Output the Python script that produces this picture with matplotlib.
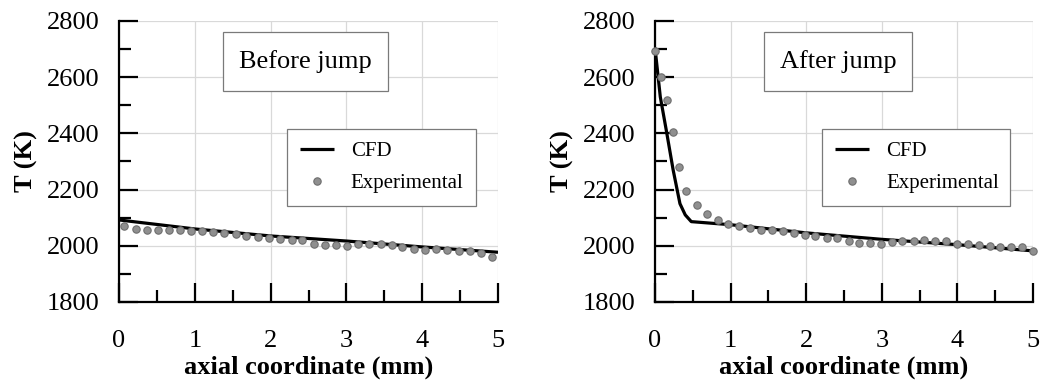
import matplotlib
matplotlib.use("Agg")
import matplotlib.pyplot as plt
from matplotlib.patches import Rectangle
from matplotlib.ticker import MultipleLocator

plt.rcParams['font.family'] = ['Liberation Serif', 'DejaVu Serif']

# ---------------- data ----------------
cfd_before_x = [0, 1, 2, 3, 4, 5]
cfd_before_T = [2092, 2060, 2035, 2017, 1996, 1977]

exp_before_x = [0.07, 0.22, 0.365, 0.51, 0.655, 0.80, 0.95, 1.10, 1.24, 1.39,
                1.54, 1.68, 1.83, 1.98, 2.13, 2.28, 2.42, 2.57, 2.72, 2.86,
                3.01, 3.15, 3.30, 3.45, 3.60, 3.74, 3.89, 4.04, 4.18, 4.33,
                4.48, 4.63, 4.77, 4.92]
exp_before_T = [2072, 2061, 2056, 2055, 2055, 2055, 2053, 2053, 2050, 2047,
                2041, 2036, 2032, 2029, 2023, 2019, 2022, 2008, 2002, 2002,
                1999, 2005, 2008, 2008, 2004, 1997, 1990, 1986, 1990, 1985,
                1980, 1981, 1973, 1961]

cfd_after_x = [0, 0.07, 0.15, 0.24, 0.33, 0.40, 0.48, 1, 2, 3, 4, 5]
cfd_after_T = [2705, 2530, 2410, 2270, 2150, 2110, 2086, 2075, 2046, 2023, 2004, 1982]

exp_after_x = [0.0, 0.08, 0.16, 0.24, 0.32, 0.405, 0.55, 0.69, 0.83, 0.97,
               1.11, 1.26, 1.40, 1.55, 1.69, 1.84, 1.98, 2.12, 2.27, 2.41,
               2.56, 2.70, 2.84, 2.99, 3.13, 3.27, 3.42, 3.56, 3.70, 3.85,
               3.99, 4.14, 4.28, 4.43, 4.57, 4.71, 4.86, 5.0]
exp_after_T = [2693, 2600, 2520, 2406, 2282, 2195, 2146, 2112, 2093, 2076,
               2069, 2065, 2057, 2057, 2051, 2044, 2040, 2035, 2029, 2027,
               2017, 2011, 2009, 2006, 2014, 2017, 2016, 2019, 2017, 2016,
               2008, 2005, 2003, 1999, 1995, 1997, 1997, 1981]

panel_titles = ["Before jump", "After jump"]
xlabel = "axial coordinate (mm)"
ylabel = "T (K)"
legend_labels = ["CFD", "Experimental"]

# ---------------- figure ----------------
W, H = 1042, 380
fig = plt.figure(figsize=(W / 100, H / 100), dpi=100)

def px_axes(l, r, t, b):
    return fig.add_axes([l / W, 1 - b / H, (r - l) / W, (b - t) / H])

ax1 = px_axes(119, 498, 21, 302)
ax2 = px_axes(655, 1033, 21, 302)

title_boxes = [(0.274, 0.751, 0.435, 0.21), (0.288, 0.751, 0.392, 0.21)]
legend_boxes = [(0.443, 0.331, 0.499, 0.285), (0.442, 0.331, 0.497, 0.285)]

data = [(cfd_before_x, cfd_before_T, exp_before_x, exp_before_T),
        (cfd_after_x, cfd_after_T, exp_after_x, exp_after_T)]

for ax, (cx, cT, ex, eT), title, tb, lb in zip([ax1, ax2], data, panel_titles,
                                              title_boxes, legend_boxes):
    ax.set_xlim(0, 5)
    ax.set_ylim(1800, 2800)
    ax.xaxis.set_major_locator(MultipleLocator(1))
    ax.xaxis.set_minor_locator(MultipleLocator(0.5))
    ax.yaxis.set_major_locator(MultipleLocator(200))
    ax.yaxis.set_minor_locator(MultipleLocator(100))
    ax.grid(True, which='major', color='#d9d9d9', linewidth=0.9, zorder=0)
    ax.set_axisbelow(True)
    for s in ['top', 'right']:
        ax.spines[s].set_visible(False)
    for s in ['left', 'bottom']:
        ax.spines[s].set_linewidth(1.6)
        ax.spines[s].set_color('black')
    ax.tick_params(which='major', direction='in', length=13.5, width=1.6,
                   labelsize=19, colors='black')
    ax.tick_params(axis='y', which='major', pad=14)
    ax.tick_params(axis='x', which='major', pad=20)
    ax.tick_params(which='minor', direction='in', length=8.8, width=1.6)

    l1, = ax.plot(cx, cT, color='black', linewidth=2.3, zorder=3,
                  solid_capstyle='butt')
    l2, = ax.plot(ex, eT, linestyle='none', marker='o', markersize=5.3,
                  markerfacecolor='#8f8f8f', markeredgecolor='#6e6e6e',
                  markeredgewidth=0.8, zorder=4, clip_on=False)

    ax.set_xlabel(xlabel, fontsize=19, fontweight='bold', labelpad=3)
    ax.set_ylabel(ylabel, fontsize=19, fontweight='bold', labelpad=6)

    ax.add_patch(Rectangle((tb[0], tb[1]), tb[2], tb[3], transform=ax.transAxes,
                           facecolor='white', edgecolor='#7a7a7a',
                           linewidth=0.9, zorder=5))
    ax.text(tb[0] + tb[2] / 2, tb[1] + tb[3] / 2, title, transform=ax.transAxes,
            ha='center', va='center', fontsize=19, zorder=6)

    leg = ax.legend([l1, l2], legend_labels, loc='upper left',
                    bbox_to_anchor=lb, mode='expand', fontsize=15,
                    frameon=True, fancybox=False, framealpha=1,
                    edgecolor='#7a7a7a', borderpad=0.62, labelspacing=0.58,
                    handlelength=1.65, handletextpad=0.8, numpoints=1,
                    borderaxespad=0)
    leg.get_frame().set_linewidth(0.9)
    leg.set_zorder(6)

fig.savefig("out.png", dpi=100)
